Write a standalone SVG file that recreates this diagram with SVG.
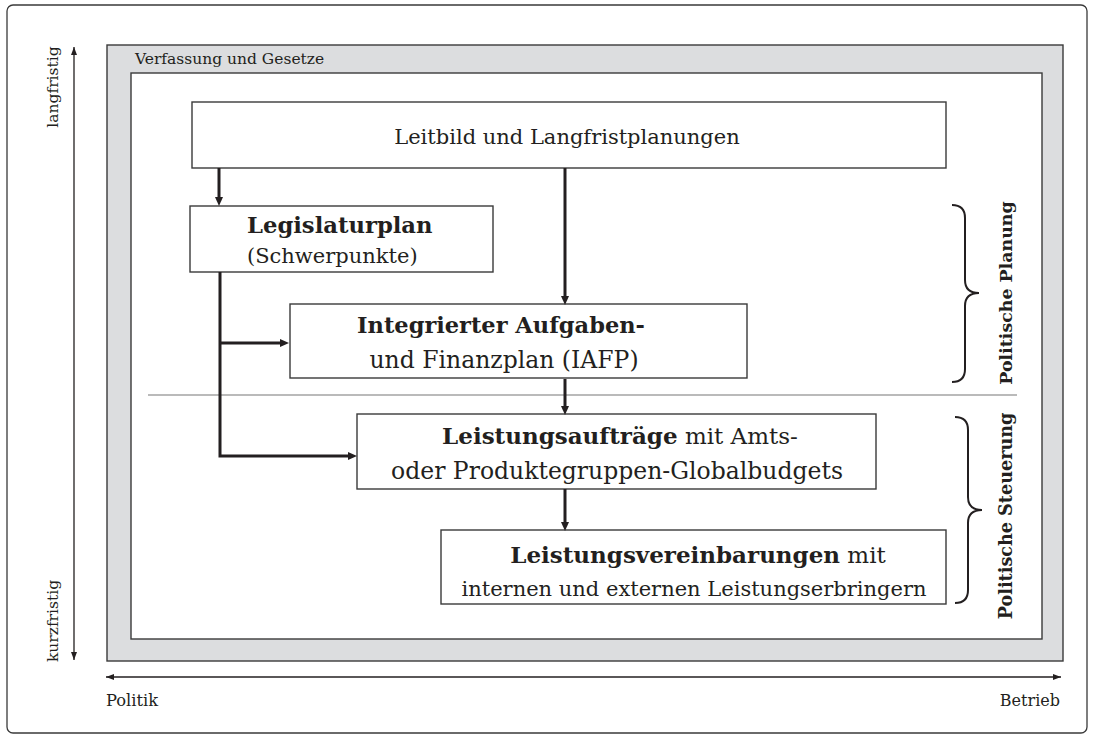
<svg xmlns="http://www.w3.org/2000/svg" width="1093" height="737" viewBox="0 0 1093 737">
<style>
text{font-family:"DejaVu Serif","Liberation Serif",serif;fill:#231f20}
.b{font-weight:bold}
.box{fill:#fff;stroke:#3a3a3a;stroke-width:1.4}
.thick{fill:none;stroke:#231f20;stroke-width:3}
.thin{fill:none;stroke:#231f20;stroke-width:1.3}
.brace{fill:none;stroke:#231f20;stroke-width:2}
</style>
<defs>
<marker id="ah" markerUnits="userSpaceOnUse" markerWidth="10" markerHeight="10" refX="0" refY="4" orient="auto"><path d="M0,0 L9,4 L0,8 z" fill="#231f20"/></marker>
<marker id="sa" markerUnits="userSpaceOnUse" markerWidth="10" markerHeight="8" refX="8" refY="3" orient="auto-start-reverse"><path d="M0,0 L8,3 L0,6 z" fill="#231f20"/></marker>
</defs>
<rect x="7" y="5" width="1080" height="728" rx="6" fill="#fff" stroke="#3a3a3a" stroke-width="1.3"/>
<g id="frame">
<rect x="107" y="45" width="956" height="616" fill="#dcdddf" stroke="#3a3a3a" stroke-width="1.4"/>
<rect x="131" y="73" width="911" height="566" fill="#fff" stroke="#3a3a3a" stroke-width="1.4"/>
<text x="135" y="64" font-size="15.5">Verfassung und Gesetze</text>
</g>
<g id="axes">
<path class="thin" d="M74,47 L74,660" marker-start="url(#sa)" marker-end="url(#sa)"/>
<path class="thin" d="M106,677 L1061,677" marker-start="url(#sa)" marker-end="url(#sa)"/>
<text transform="translate(58,87) rotate(-90)" font-size="15.5" text-anchor="middle">langfristig</text>
<text transform="translate(58,621) rotate(-90)" font-size="15.5" text-anchor="middle">kurzfristig</text>
<text x="106" y="706" font-size="16.3">Politik</text>
<text x="1060" y="706" font-size="16" text-anchor="end">Betrieb</text>
</g>
<line x1="148" y1="395" x2="1017" y2="395" stroke="#777" stroke-width="1.2"/>
<g id="leitbild">
<rect class="box" x="192" y="102" width="754" height="66"/>
<text x="567" y="144" font-size="21" text-anchor="middle">Leitbild und Langfristplanungen</text>
</g>
<g id="legislaturplan">
<rect class="box" x="190" y="206" width="303" height="66"/>
<text x="247" y="233" font-size="22.7" class="b">Legislaturplan</text>
<text x="247" y="263" font-size="21">(Schwerpunkte)</text>
</g>
<g id="iafp">
<rect class="box" x="290" y="304" width="457" height="74"/>
<text x="501" y="333" font-size="22.5" class="b" text-anchor="middle">Integrierter Aufgaben-</text>
<text x="504" y="368" font-size="23.5" text-anchor="middle">und Finanzplan (IAFP)</text>
</g>
<g id="leistungsauftraege">
<rect class="box" x="357" y="414" width="519" height="75"/>
<text x="620" y="444" font-size="23" text-anchor="middle"><tspan class="b">Leistungsaufträge</tspan> mit Amts-</text>
<text x="617" y="479" font-size="23.5" text-anchor="middle">oder Produktegruppen-Globalbudgets</text>
</g>
<g id="leistungsvereinbarungen">
<rect class="box" x="441" y="530" width="505" height="74"/>
<text x="698" y="563" font-size="23" text-anchor="middle"><tspan class="b">Leistungsvereinbarungen</tspan> mit</text>
<text x="694" y="596" font-size="21" text-anchor="middle">internen und externen Leistungserbringern</text>
</g>
<g id="politische-planung">
<path class="brace" d="M952,205 Q965,205 965,218 L965,280 Q965,293 979,293 Q965,293 965,306 L965,369 Q965,382 952,382"/>
<text transform="translate(1012,293) rotate(-90)" font-size="17.4" class="b" text-anchor="middle">Politische Planung</text>
</g>
<g id="politische-steuerung">
<path class="brace" d="M955,417 Q968,417 968,430 L968,497 Q968,510 982,510 Q968,510 968,523 L968,590 Q968,603 955,603"/>
<text transform="translate(1012,516) rotate(-90)" font-size="17.6" class="b" text-anchor="middle">Politische Steuerung</text>
</g>
<g id="connectors">
<path class="thick" d="M219,168 L219,197" marker-end="url(#ah)"/>
<path class="thick" d="M565,168 L565,296" marker-end="url(#ah)"/>
<path class="thick" d="M565,379 L565,406" marker-end="url(#ah)"/>
<path class="thick" d="M565,489 L565,522" marker-end="url(#ah)"/>
<path class="thick" d="M220,272 L220,456 L348,456" marker-end="url(#ah)"/>
<path class="thick" d="M220,343 L280,343" marker-end="url(#ah)"/>
</g>
</svg>
